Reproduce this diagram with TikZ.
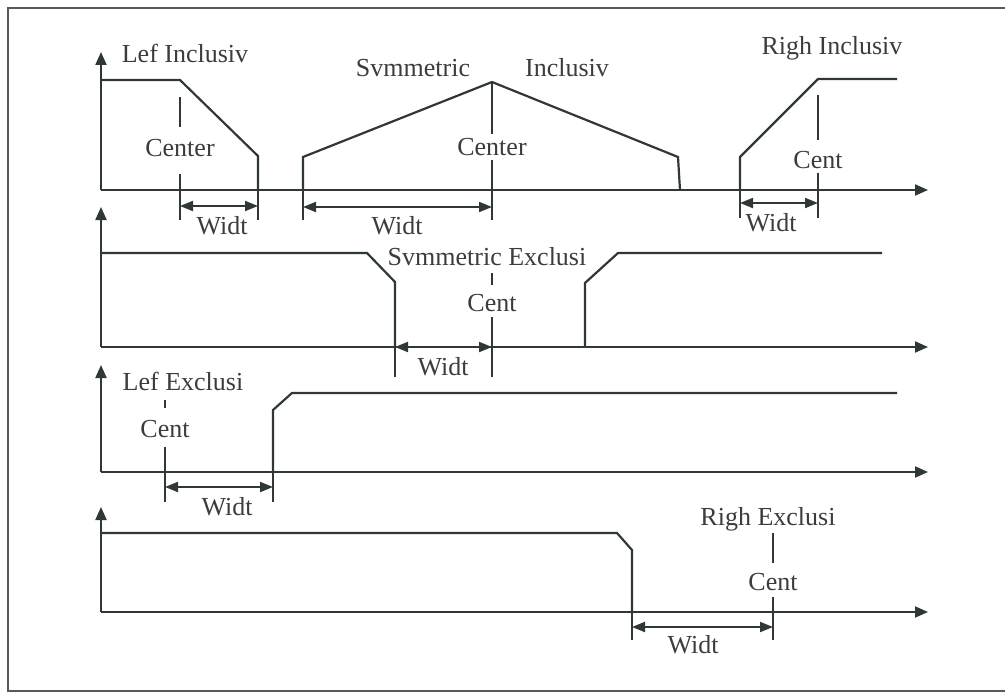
\documentclass[tikz,border=0pt]{standalone}
\usepackage{fontspec}
\setmainfont{Liberation Serif}
\usepackage{tikz}
\usetikzlibrary{arrows.meta, positioning}

\definecolor{ink}{HTML}{2F3837}
\definecolor{txt}{HTML}{3C3C3C}

\tikzset{
  sig/.style={line width=2.2pt, draw=ink},
  axis/.style={line width=2pt, draw=ink, -{Triangle[length=13pt, width=11pt]}},
  dimline/.style={line width=2pt, draw=ink, {Triangle[length=13pt, width=10pt]}-{Triangle[length=13pt, width=10pt]}},
  tickline/.style={line width=1.6pt, draw=ink},
  lbl/.style={font=\fontsize{26}{28}\selectfont, text=txt, inner sep=1pt},
}

\begin{document}
\begin{tikzpicture}[x=1pt, y=-1pt]
    \useasboundingbox (0,0) rectangle (1005,693);

    % 外框
    \draw[line width=2pt, black!65] (1010,8) -- (8,8) -- (8,691) -- (1010,691);

    % 四组坐标轴
    \foreach \top/\base [count=\i] in {52/190, 207/347, 365/472, 507/612} {
        \coordinate (o\i) at (101,\base);
        \draw[axis] (o\i) -- (101,\top);
        \draw[axis] (o\i) -- (928,\base);
    }

    % 第一组: 左, 对称, 右 (Inclusiv)
    \draw[sig] (101,80) -- (180,80) -- (258,156) -- (258,190);
    \draw[sig] (303,190) -- (303,157) -- (492,82) -- (678,157) -- (680,190);
    \draw[sig] (740,190) -- (740,157) -- (818,79) -- (897,79);

    \node[lbl] (lefinc) at (185,53) {Lef Inclusiv};
    \node[lbl] (syminc) at (413,68) {Svmmetric};
    \node[lbl] (syminc2) at (567,68) {Inclusiv};
    \node[lbl] (riginc) at (832,48) {Righ Inclusiv};

    \node[lbl] (cen1) at (180,148) {Center};
    \draw[tickline] (180,97) -- (180,127);
    \draw[tickline] (180,174) -- (180,220);
    \draw[tickline] (258,190) -- (258,220);
    \coordinate (a1) at (180,206);
    \coordinate (b1) at (258,206);
    \draw[dimline] (a1) -- (b1);
    \node[lbl] (wid1) at (222,226) {Widt};

    \node[lbl] (cen2) at (492,147) {Center};
    \draw[tickline] (492,82) -- (492,134);
    \draw[tickline] (492,160) -- (492,220);
    \draw[tickline] (303,190) -- (303,220);
    \coordinate (a2) at (303,207);
    \coordinate (b2) at (492,207);
    \draw[dimline] (a2) -- (b2);
    \node[lbl] (wid2) at (397,226) {Widt};

    \node[lbl] (cen3) at (818,160) {Cent};
    \draw[tickline] (818,95) -- (818,140);
    \draw[tickline] (818,173) -- (818,218);
    \draw[tickline] (740,190) -- (740,218);
    \coordinate (a3) at (740,203);
    \coordinate (b3) at (818,203);
    \draw[dimline] (a3) -- (b3);
    \node[lbl] (wid3) at (771,223) {Widt};

    % 第二组: 对称 Exclusi
    \draw[sig] (101,253) -- (367,253) -- (395,282) -- (395,347);
    \draw[sig] (585,347) -- (585,283) -- (618,253) -- (882,253);
    \node[lbl] (symexc) at (487,257) {Svmmetric Exclusi};
    \node[lbl] (cen4) at (492,303) {Cent};
    \draw[tickline] (492,273) -- (492,285);
    \draw[tickline] (492,317) -- (492,377);
    \draw[tickline] (395,347) -- (395,377);
    \coordinate (a4) at (395,347);
    \coordinate (b4) at (492,347);
    \draw[dimline] (a4) -- (b4);
    \node[lbl] (wid4) at (443,367) {Widt};

    % 第三组: 左 Exclusi
    \draw[sig] (273,472) -- (273,410) -- (292,393) -- (897,393);
    \node[lbl] (lefexc) at (183,381) {Lef Exclusi};
    \node[lbl] (cen5) at (165,429) {Cent};
    \draw[tickline] (165,400) -- (165,408);
    \draw[tickline] (165,447) -- (165,502);
    \draw[tickline] (273,472) -- (273,502);
    \coordinate (a5) at (165,487);
    \coordinate (b5) at (273,487);
    \draw[dimline] (a5) -- (b5);
    \node[lbl] (wid5) at (227,507) {Widt};

    % 第四组: 右 Exclusi
    \draw[sig] (101,533) -- (617,533) -- (632,550) -- (632,612);
    \node[lbl] (rigexc) at (768,519) {Righ Exclusi};
    \node[lbl] (cen6) at (773,582) {Cent};
    \draw[tickline] (773,533) -- (773,563);
    \draw[tickline] (773,597) -- (773,640);
    \draw[tickline] (632,612) -- (632,640);
    \coordinate (a6) at (632,627);
    \coordinate (b6) at (773,627);
    \draw[dimline] (a6) -- (b6);
    \node[lbl] (wid6) at (693,645) {Widt};
\end{tikzpicture}
\end{document}
